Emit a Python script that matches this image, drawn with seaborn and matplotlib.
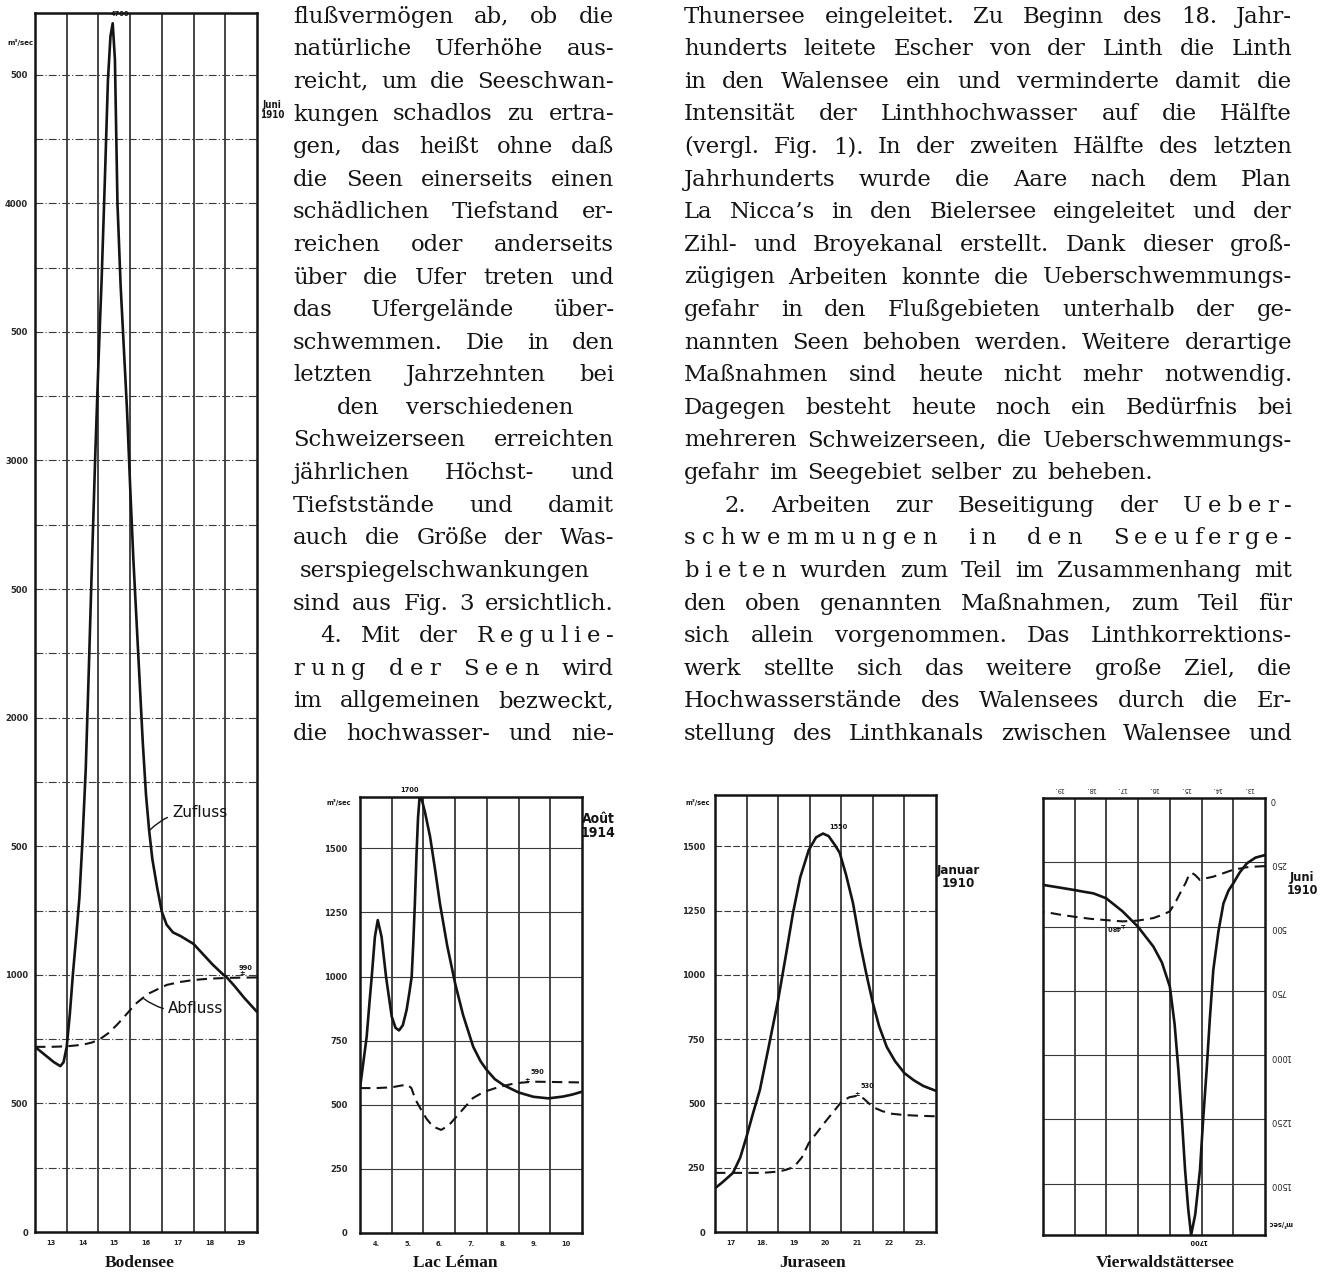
import numpy as np
import pandas as pd
import matplotlib
matplotlib.use("Agg")
import matplotlib.pyplot as plt
import seaborn as sns
from matplotlib.font_manager import FontProperties

# ---- values (m3/sec per day) ----
bod_days = [13, 14, 15, 16, 17, 18, 19]
bod_zu_day = [12.5, 12.8, 13.1, 13.3, 13.4, 13.5, 13.6, 13.7, 13.8, 13.9, 14.0, 14.1, 14.2, 14.3,
              14.4, 14.5, 14.6, 14.7, 14.8, 14.88, 14.95, 15.02, 15.1, 15.2, 15.3, 15.4, 15.5, 15.6,
              15.7, 15.8, 15.9, 16.0, 16.1, 16.2, 16.35, 16.5, 16.65, 16.85, 17.1, 17.3, 17.5, 17.8,
              18.1, 18.4, 18.55, 18.8, 19.1, 19.5]
bod_zu_val = [720, 690, 660, 645, 660, 720, 850, 1010, 1150, 1300, 1530, 1800, 2200, 2620,
              3020, 3380, 3700, 4080, 4480, 4650, 4700, 4560, 4000, 3680, 3440, 3200, 2900, 2620,
              2380, 2140, 1900, 1700, 1560, 1450, 1340, 1245, 1195, 1165, 1150, 1135, 1120, 1080,
              1040, 1005, 990, 955, 910, 856]
bod_ab_day = [12.5, 13.0, 13.5, 14.0, 14.3, 14.55, 14.8, 15.08, 15.3, 15.5, 15.7, 15.9, 16.1,
              16.35, 16.66, 17.07, 17.5, 18.0, 18.55, 19.0, 19.5]
bod_ab_val = [720, 720, 722, 728, 737, 750, 772, 805, 835, 863, 890, 910, 928,
              943, 961, 972, 980, 985, 988, 989, 990]

lem_days = [4, 5, 6, 7, 8, 9, 10]
lem_day_labels = ["4.", "5.", "6.", "7.", "8.", "9.", "10"]
lem_zu_day = [3.5, 3.6, 3.71, 3.8, 3.87, 3.97, 4.06, 4.18, 4.32, 4.5, 4.62, 4.73, 4.85, 4.97,
              5.06, 5.13, 5.18, 5.23, 5.28, 5.33, 5.38, 5.45, 5.55, 5.71, 5.87, 6.02, 6.25, 6.5,
              6.75, 7.07, 7.3, 7.5, 7.75, 8.02, 8.5, 8.97, 9.44, 9.9, 10.2, 10.5]
lem_zu_val = [565, 660, 765, 900, 1000, 1155, 1220, 1155, 1000, 844, 800, 790, 810, 870,
              940, 1000, 1130, 1285, 1470, 1620, 1700, 1690, 1640, 1545, 1415, 1285, 1120, 973,
              850, 726, 670, 635, 600, 577, 548, 531, 525, 532, 540, 551]
lem_ab_day = [3.5, 4.0, 4.5, 4.8, 5.0, 5.12, 5.25, 5.43, 5.6, 5.8, 6.06, 6.3, 6.53, 6.8, 7.06,
              7.4, 7.9, 8.4, 8.96, 9.5, 10.0, 10.5]
lem_ab_val = [565, 565, 568, 575, 578, 565, 520, 480, 445, 415, 402, 420, 452, 490, 526,
              550, 570, 584, 590, 589, 588, 587]

jur_days = [17, 18, 19, 20, 21, 22, 23]
jur_day_labels = ["17", "18.", "19", "20", "21", "22", "23."]
jur_zu_day = [16.5, 16.75, 17.07, 17.3, 17.5, 17.7, 17.92, 18.2, 18.5, 18.75, 18.97, 19.2, 19.47,
              19.7, 19.92, 20.1, 20.3, 20.45, 20.65, 20.87, 21.1, 21.3, 21.5, 21.7, 21.94, 22.2,
              22.5, 22.8, 23.1, 23.5]
jur_zu_val = [170, 195, 230, 290, 371, 460, 552, 720, 903, 1080, 1241, 1380, 1486,
              1535, 1550, 1540, 1505, 1475, 1390, 1280, 1120, 1000, 891, 800, 720, 665,
              618, 590, 568, 549]
jur_ab_day = [16.5, 17.0, 17.5, 18.0, 18.5, 18.75, 19.0, 19.25, 19.47, 19.75, 20.04, 20.3, 20.5,
              20.75, 21.0, 21.2, 21.5, 21.8, 22.1, 22.5, 23.0, 23.5]
jur_ab_val = [230, 230, 230, 230, 235, 242, 253, 290, 346, 390, 436, 475, 506,
              524, 530, 520, 486, 470, 460, 455, 452, 450]

vie_days = [13, 14, 15, 16, 17, 18, 19]
vie_day_labels = ["13.", "14.", "15.", "16.", "17.", "18.", "19."]
vie_zu_day = [12.5, 12.8, 13.07, 13.3, 13.5, 13.65, 13.81, 13.97, 14.13, 14.24, 14.34, 14.45,
              14.55, 14.7, 14.83, 14.92, 15.02, 15.12, 15.23, 15.35, 15.5, 15.75, 16.02, 16.51,
              17.0, 17.51, 17.91, 18.2, 18.51, 19.0, 19.5]
vie_zu_val = [222, 232, 254, 290, 332, 360, 410, 520, 669, 860, 1058, 1250,
              1447, 1620, 1700, 1600, 1447, 1250, 1058, 880, 734, 640, 578, 500,
              440, 390, 371, 365, 358, 348, 338]
vie_ab_day = [12.5, 13.0, 13.5, 13.8, 14.13, 14.35, 14.55, 14.7, 14.81, 14.9, 15.0, 15.18, 15.3,
              15.5, 15.75, 16.02, 16.51, 17.0, 17.51, 18.0, 18.51, 19.0, 19.5]
vie_ab_val = [265, 268, 279, 292, 306, 312, 319, 300, 291, 300, 330, 371, 400,
              441, 455, 467, 477, 480, 475, 470, 462, 453, 442]

# ---- page text ----
left_lines = [
    "flußvermögen ab, ob die",
    "natürliche Uferhöhe aus-",
    "reicht, um die Seeschwan-",
    "kungen schadlos zu ertra-",
    "gen, das heißt ohne daß",
    "die Seen einerseits einen",
    "schädlichen Tiefstand er-",
    "reichen oder anderseits",
    "über die Ufer treten und",
    "das Ufergelände über-",
    "schwemmen. Die in den",
    "letzten Jahrzehnten bei",
    "den verschiedenen",
    "Schweizerseen erreichten",
    "jährlichen Höchst- und",
    "Tiefststände und damit",
    "auch die Größe der Was-",
    "serspiegelschwankungen",
    "sind aus Fig. 3 ersichtlich.",
    "4. Mit der R_e_g_u_l_i_e_-",
    "r_u_n_g d_e_r S_e_e_n wird",
    "im allgemeinen bezweckt,",
    "die hochwasser- und nie-",
]
right_lines = [
    "Thunersee eingeleitet. Zu Beginn des 18. Jahr-",
    "hunderts leitete Escher von der Linth die Linth",
    "in den Walensee ein und verminderte damit die",
    "Intensität der Linthhochwasser auf die Hälfte",
    "(vergl. Fig. 1). In der zweiten Hälfte des letzten",
    "Jahrhunderts wurde die Aare nach dem Plan",
    "La Nicca’s in den Bielersee eingeleitet und der",
    "Zihl- und Broyekanal erstellt. Dank dieser groß-",
    "zügigen Arbeiten konnte die Ueberschwemmungs-",
    "gefahr in den Flußgebieten unterhalb der ge-",
    "nannten Seen behoben werden. Weitere derartige",
    "Maßnahmen sind heute nicht mehr notwendig.",
    "Dagegen besteht heute noch ein Bedürfnis bei",
    "mehreren Schweizerseen, die Ueberschwemmungs-",
    "gefahr im Seegebiet selber zu beheben.",
    "2. Arbeiten zur Beseitigung der U_e_b_e_r_-",
    "s_c_h_w_e_m_m_u_n_g_e_n i_n d_e_n S_e_e_u_f_e_r_g_e_-",
    "b_i_e_t_e_n wurden zum Teil im Zusammenhang mit",
    "den oben genannten Maßnahmen, zum Teil für",
    "sich allein vorgenommen. Das Linthkorrektions-",
    "werk stellte sich das weitere große Ziel, die",
    "Hochwasserstände des Walensees durch die Er-",
    "stellung des Linthkanals zwischen Walensee und",
]

W, H = 1320, 1272
INK = "#141414"

sns.set_theme(style="white")
plt.rcParams['font.family'] = ['DejaVu Sans']

fig = plt.figure(figsize=(W / 100, H / 100), dpi=100)
fig.patch.set_facecolor("white")


def px_axes(left, top, right, bottom):
    return fig.add_axes([left / W, 1 - bottom / H, (right - left) / W, (bottom - top) / H])


def fpx(x, y):
    return x / W, 1 - y / H


def setup(ax, days, labels, ymax, ystep_lab, hls, ylabels=None):
    ax.set_xlim(days[0] - 0.5, days[-1] + 0.5)
    ax.set_ylim(0, ymax)
    ax.set_xticks(days)
    ax.set_xticklabels(labels)
    ax.set_xticks([d + 0.5 for d in days[:-1]], minor=True)
    yt = np.arange(0, ymax, 250)
    ax.set_yticks(yt)
    if ylabels is None:
        ylabels = [str(int(v)) if v % ystep_lab == 0 else "" for v in yt]
    ax.set_yticklabels(ylabels)
    ax.grid(False)
    ax.grid(True, which="minor", axis="x", color=INK, lw=1.1)
    ax.grid(True, which="major", axis="y", color="#3a3a3a", lw=0.8, ls=hls)
    ax.tick_params(which="both", length=0)
    ax.tick_params(axis="y", labelsize=6, pad=5)
    ax.tick_params(axis="x", labelsize=4.8, pad=6)
    for lab in ax.get_xticklabels() + ax.get_yticklabels():
        lab.set_fontweight("bold")
    for s in ax.spines.values():
        s.set_visible(True)
        s.set_color(INK)
        s.set_linewidth(1.8)
    ax.set_xlabel("")
    ax.set_ylabel("")
    ax.set_facecolor("white")


def curves(ax, zd, zv, ad, av):
    sns.lineplot(x=zd, y=zv, ax=ax, color=INK, lw=1.9, legend=False)
    sns.lineplot(x=ad, y=av, ax=ax, color=INK, lw=1.5, legend=False)
    ax.lines[-1].set_dashes((5, 3))
    ax.set_xlabel("")
    ax.set_ylabel("")


small = dict(fontsize=4.8, fontweight="bold", color=INK)
narrow = dict(family=['Liberation Sans Narrow', 'DejaVu Sans'], fontstretch="condensed",
              fontweight="bold", color=INK, ha="center", va="center", linespacing=0.95)

# ---- Bodensee ----
ax1 = px_axes(35, 13, 257, 1232)
bod_ylabels = []
for v in np.arange(0, 4740, 250):
    if v == 0:
        bod_ylabels.append("0")
    elif v % 1000 == 0:
        bod_ylabels.append(f"{int(v)}")
    elif v % 500 == 0:
        bod_ylabels.append("500")
    else:
        bod_ylabels.append("")
setup(ax1, bod_days, [str(d) for d in bod_days], 4740, 500, (0, (7, 2, 1, 2)), bod_ylabels)
curves(ax1, bod_zu_day, bod_zu_val, bod_ab_day, bod_ab_val)
ip = int(np.argmax(bod_zu_val))
ax1.annotate(str(bod_zu_val[ip]), (bod_zu_day[ip], bod_zu_val[ip]), xytext=(7, 6),
             textcoords="offset pixels", ha="center", va="bottom", **small)
ax1.annotate(str(bod_ab_val[-1]), (bod_ab_day[-1], bod_ab_val[-1]), xytext=(-11, 6),
             textcoords="offset pixels", ha="center", va="bottom", **small)
ax1.annotate("±", (bod_ab_day[-1], bod_ab_val[-1]), xytext=(-15, 1),
             textcoords="offset pixels", ha="center", va="bottom", **small)
iz = bod_zu_day.index(16.1)
ax1.annotate("Zufluss", xy=(bod_zu_day[iz], bod_zu_val[iz]), xytext=(16.82, 1630),
             fontsize=11, color=INK, va="center", ha="left",
             arrowprops=dict(arrowstyle="-", lw=1.0, color=INK, shrinkA=1, shrinkB=1,
                             connectionstyle="arc3,rad=0.25"))
ia = bod_ab_day.index(15.9)
ax1.annotate("Abfluss", xy=(bod_ab_day[ia], bod_ab_val[ia]), xytext=(16.69, 871),
             fontsize=11, color=INK, va="center", ha="left",
             arrowprops=dict(arrowstyle="-", lw=1.0, color=INK, shrinkA=1, shrinkB=1,
                             connectionstyle="arc3,rad=-0.25"))
fig.text(*fpx(20, 42), "m³/sec", fontsize=5, fontweight="bold", color=INK, ha="center", va="center")
fig.text(*fpx(272, 110), "Juni\n1910", fontsize=7, **narrow)

# ---- Lac Léman ----
ax2 = px_axes(360, 797, 582, 1233)
setup(ax2, lem_days, lem_day_labels, 1700, 250, "-")
ax2.tick_params(axis="y", pad=9)
curves(ax2, lem_zu_day, lem_zu_val, lem_ab_day, lem_ab_val)
ip = int(np.argmax(lem_zu_val))
ax2.annotate(str(lem_zu_val[ip]), (lem_zu_day[ip], lem_zu_val[ip]), xytext=(-10, 4),
             textcoords="offset pixels", ha="center", va="bottom", **small)
ia = int(np.argmax(lem_ab_val))
ax2.annotate(str(lem_ab_val[ia]), (lem_ab_day[ia], lem_ab_val[ia]), xytext=(4, 7),
             textcoords="offset pixels", ha="center", va="bottom", **small)
ax2.annotate("±", (lem_ab_day[ia], lem_ab_val[ia]), xytext=(-6, -1),
             textcoords="offset pixels", ha="center", va="bottom", **small)
fig.text(*fpx(339, 802), "m³/sec", fontsize=4.8, fontweight="bold", color=INK, ha="center", va="center")
fig.text(*fpx(598, 826), "Août\n1914", fontsize=10, **narrow)

# ---- Juraseen ----
ax3 = px_axes(715, 795, 936, 1232)
setup(ax3, jur_days, jur_day_labels, 1700, 250, (0, (6, 2)))
ax3.tick_params(axis="y", pad=7)
curves(ax3, jur_zu_day, jur_zu_val, jur_ab_day, jur_ab_val)
ip = int(np.argmax(jur_zu_val))
ax3.annotate(str(jur_zu_val[ip]), (jur_zu_day[ip], jur_zu_val[ip]), xytext=(15, 4),
             textcoords="offset pixels", ha="center", va="bottom", **small)
ia = int(np.argmax(jur_ab_val))
ax3.annotate(str(jur_ab_val[ia]), (jur_ab_day[ia], jur_ab_val[ia]), xytext=(10, 7),
             textcoords="offset pixels", ha="center", va="bottom", **small)
ax3.annotate("±", (jur_ab_day[ia], jur_ab_val[ia]), xytext=(0, -1),
             textcoords="offset pixels", ha="center", va="bottom", **small)
fig.text(*fpx(698, 803), "m³/sec", fontsize=4.8, fontweight="bold", color=INK, ha="center", va="center")
fig.text(*fpx(958, 877), "Januar\n1910", fontsize=9.5, **narrow)

# ---- Vierwaldstättersee (plate printed upside down) ----
ax4 = px_axes(1043, 798, 1265, 1235)
setup(ax4, vie_days, vie_day_labels, 1700, 250, "-")
ax4.set_ylim(1700, 0)
ax4.set_xlim(vie_days[-1] + 0.5, vie_days[0] - 0.5)
ax4.yaxis.tick_right()
ax4.xaxis.tick_top()
ax4.tick_params(which="both", length=0)
ax4.tick_params(axis="y", labelrotation=180, pad=4, labelsize=6)
ax4.tick_params(axis="x", labelrotation=180, pad=4, labelsize=4.8)
curves(ax4, vie_zu_day, vie_zu_val, vie_ab_day, vie_ab_val)
ip = int(np.argmax(vie_zu_val))
ax4.annotate(str(vie_zu_val[ip]), (vie_zu_day[ip], vie_zu_val[ip]), xytext=(7, -3),
             textcoords="offset pixels", ha="center", va="top", rotation=180, **small)
ia = int(np.argmax(vie_ab_val))
ax4.annotate(str(vie_ab_val[ia]), (vie_ab_day[ia], vie_ab_val[ia]), xytext=(-8, -3),
             textcoords="offset pixels", ha="center", va="top", rotation=180, **small)
ax4.annotate("±", (vie_ab_day[ia], vie_ab_val[ia]), xytext=(0, -1),
             textcoords="offset pixels", ha="center", va="top", rotation=180, **small)
fig.text(*fpx(1280, 1223), "m³/sec", fontsize=4.8, fontweight="bold", color=INK,
         ha="center", va="center", rotation=180)
fig.text(*fpx(1302, 884), "Juni\n1910", fontsize=9, **narrow)

# ---- plate titles ----
for name, cx in [("Bodensee", 140), ("Lac Léman", 455), ("Juraseen", 813), ("Vierwaldstättersee", 1165)]:
    fig.text(*fpx(cx, 1263), name, fontsize=12.5, fontweight="bold", family=["Liberation Serif"],
             color=INK, ha="center", va="center")

# ---- justified body text ----
body = FontProperties(family="DejaVu Serif", size=16.4)
renderer = fig.canvas.get_renderer()
LS = 6.0


def text_w(s):
    t = fig.text(0, 0, s, fontproperties=body)
    w = t.get_window_extent(renderer).width
    t.remove()
    return w


SPACE = text_w("n n") - text_w("nn")


def token_parts(tok):
    if "_" in tok:
        letters = tok.split("_")
        ws = [text_w(c) for c in letters]
        return letters, ws, sum(ws) + LS * (len(letters) - 1)
    w = text_w(tok)
    return [tok], [w], w


def set_line(line, x0, x1, base_y, justify=True):
    toks = line.split(" ")
    parts = [token_parts(t) for t in toks]
    total = sum(p[2] for p in parts)
    n = len(toks)
    gap = (x1 - x0 - total) / (n - 1) if (justify and n > 1) else SPACE * 1.3
    x = x0
    for letters, ws, w in parts:
        xx = x
        for c, cw in zip(letters, ws):
            fig.text(*fpx(xx, base_y), c, fontproperties=body, color=INK, ha="left", va="baseline")
            xx += cw + LS
        x += w + gap


def baseline(i):
    return 22.7 + 32.6 * i


for i, line in enumerate(left_lines):
    x0, x1 = 293, 614
    if i == 12:
        x0, x1 = 337, 573
    if i == 17:
        x0 = 300
    if i == 19:
        x0 = 320
    set_line(line, x0, x1, baseline(i), justify=(i != 17))

for i, line in enumerate(right_lines):
    x0, x1 = 684, 1292
    if i == 15:
        x0 = 725
    set_line(line, x0, x1, baseline(i), justify=(i != 14))

fig.savefig("out.png", dpi=100, facecolor="white")
